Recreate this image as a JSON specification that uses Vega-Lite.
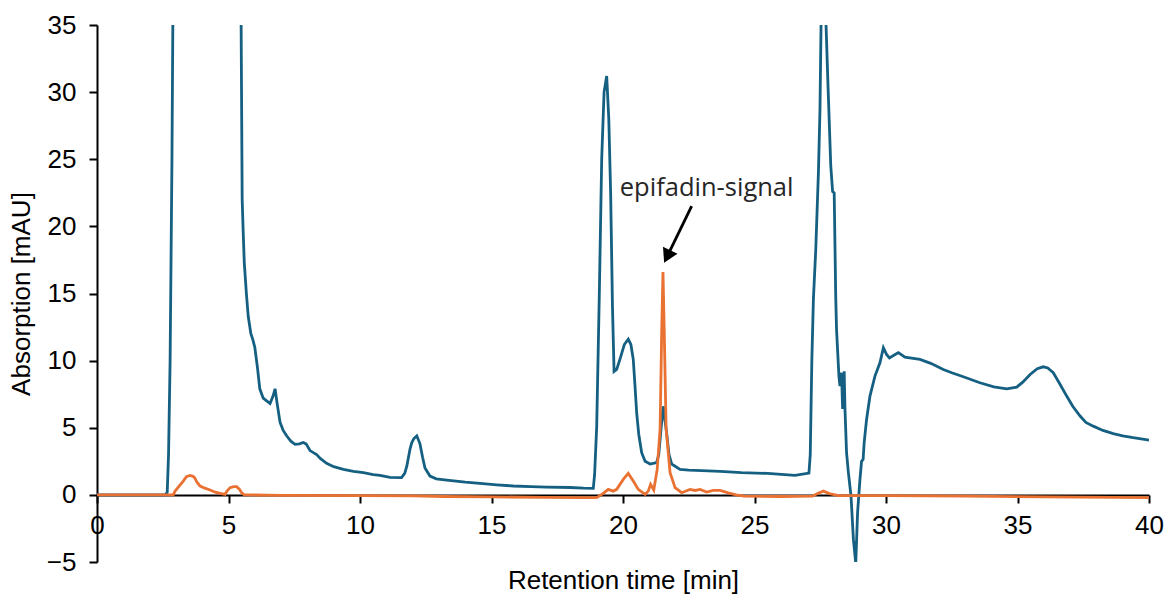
{
  "$schema": "https://vega.github.io/schema/vega-lite/v6.json",
  "width": 1052,
  "height": 537,
  "autosize": {"type": "none"},
  "padding": {"left": 97, "top": 25, "right": 18, "bottom": 33},
  "background": "white",
  "config": {"view": {"stroke": null}, "font": "Liberation Sans"},
  "datasets": {
    "blue": [
      {"x": 0, "y": 0}, {"x": 2.6, "y": 0}, {"x": 2.67, "y": 0.2}, {"x": 2.72, "y": 3}, {"x": 2.78, "y": 10},
      {"x": 2.85, "y": 25}, {"x": 2.9, "y": 40}, {"x": 3.0, "y": 60}, {"x": 4.0, "y": 90}, {"x": 5.0, "y": 70},
      {"x": 5.4, "y": 45}, {"x": 5.48, "y": 35}, {"x": 5.52, "y": 22}, {"x": 5.56, "y": 19.5}, {"x": 5.6, "y": 17.3},
      {"x": 5.68, "y": 15}, {"x": 5.75, "y": 13.3}, {"x": 5.85, "y": 12}, {"x": 5.92, "y": 11.6}, {"x": 6.0, "y": 11.0},
      {"x": 6.1, "y": 9.5}, {"x": 6.19, "y": 7.9}, {"x": 6.32, "y": 7.2}, {"x": 6.45, "y": 7.0}, {"x": 6.58, "y": 6.8},
      {"x": 6.7, "y": 7.4}, {"x": 6.77, "y": 7.9}, {"x": 6.85, "y": 6.8}, {"x": 6.96, "y": 5.4}, {"x": 7.08, "y": 4.8},
      {"x": 7.21, "y": 4.4}, {"x": 7.37, "y": 4.0}, {"x": 7.53, "y": 3.76}, {"x": 7.7, "y": 3.8}, {"x": 7.84, "y": 3.9},
      {"x": 7.95, "y": 3.8}, {"x": 8.1, "y": 3.3}, {"x": 8.35, "y": 3.0}, {"x": 8.5, "y": 2.7}, {"x": 8.73, "y": 2.35},
      {"x": 9.0, "y": 2.1}, {"x": 9.37, "y": 1.9}, {"x": 9.75, "y": 1.75}, {"x": 10.13, "y": 1.65}, {"x": 10.5, "y": 1.5},
      {"x": 10.76, "y": 1.45}, {"x": 11.14, "y": 1.3}, {"x": 11.58, "y": 1.28}, {"x": 11.7, "y": 1.6}, {"x": 11.78, "y": 2.14},
      {"x": 11.9, "y": 3.4}, {"x": 11.97, "y": 3.9}, {"x": 12.05, "y": 4.2}, {"x": 12.16, "y": 4.4}, {"x": 12.28, "y": 3.8},
      {"x": 12.38, "y": 2.8}, {"x": 12.47, "y": 2.0}, {"x": 12.66, "y": 1.4}, {"x": 12.9, "y": 1.2}, {"x": 13.3, "y": 1.1},
      {"x": 14.0, "y": 0.95}, {"x": 14.56, "y": 0.86}, {"x": 15.2, "y": 0.75}, {"x": 15.83, "y": 0.66}, {"x": 16.5, "y": 0.62},
      {"x": 17.1, "y": 0.58}, {"x": 18.0, "y": 0.55}, {"x": 18.5, "y": 0.5}, {"x": 18.87, "y": 0.48}, {"x": 18.92, "y": 1.5},
      {"x": 19.0, "y": 5.1}, {"x": 19.1, "y": 15}, {"x": 19.19, "y": 25}, {"x": 19.28, "y": 30}, {"x": 19.38, "y": 31.2},
      {"x": 19.46, "y": 28}, {"x": 19.53, "y": 22.5}, {"x": 19.6, "y": 14}, {"x": 19.66, "y": 9.2}, {"x": 19.76, "y": 9.35},
      {"x": 19.9, "y": 10.2}, {"x": 20.05, "y": 11.2}, {"x": 20.2, "y": 11.6}, {"x": 20.3, "y": 11.2}, {"x": 20.39, "y": 10.1},
      {"x": 20.46, "y": 8}, {"x": 20.52, "y": 6.1}, {"x": 20.6, "y": 4.5}, {"x": 20.71, "y": 3.14}, {"x": 20.84, "y": 2.5},
      {"x": 21.03, "y": 2.3}, {"x": 21.28, "y": 2.4}, {"x": 21.36, "y": 3.0}, {"x": 21.45, "y": 5.0}, {"x": 21.53, "y": 6.6},
      {"x": 21.6, "y": 5.5}, {"x": 21.66, "y": 4.6}, {"x": 21.75, "y": 3.0}, {"x": 21.85, "y": 2.3}, {"x": 22.17, "y": 1.9},
      {"x": 22.5, "y": 1.85}, {"x": 23.0, "y": 1.8}, {"x": 23.69, "y": 1.75}, {"x": 24.5, "y": 1.65}, {"x": 25.5, "y": 1.6},
      {"x": 26.54, "y": 1.45}, {"x": 27.07, "y": 1.62}, {"x": 27.12, "y": 3}, {"x": 27.18, "y": 10}, {"x": 27.24, "y": 14.6},
      {"x": 27.33, "y": 18.3}, {"x": 27.43, "y": 24}, {"x": 27.49, "y": 28.7}, {"x": 27.53, "y": 35}, {"x": 27.58, "y": 50},
      {"x": 27.68, "y": 50}, {"x": 27.72, "y": 35}, {"x": 27.8, "y": 30.2}, {"x": 27.9, "y": 24.5}, {"x": 27.97, "y": 22.6},
      {"x": 28.03, "y": 22.5}, {"x": 28.09, "y": 14.6}, {"x": 28.12, "y": 12.3}, {"x": 28.21, "y": 8.85}, {"x": 28.25, "y": 8.1},
      {"x": 28.31, "y": 9.1}, {"x": 28.35, "y": 6.4}, {"x": 28.41, "y": 9.2}, {"x": 28.44, "y": 6.4}, {"x": 28.5, "y": 3.14},
      {"x": 28.57, "y": 1.65}, {"x": 28.67, "y": -0.1}, {"x": 28.76, "y": -3.3}, {"x": 28.85, "y": -5.1}, {"x": 28.92, "y": -1.3},
      {"x": 29.01, "y": 1.15}, {"x": 29.07, "y": 2.5}, {"x": 29.13, "y": 2.64}, {"x": 29.17, "y": 3.9}, {"x": 29.26, "y": 5.6},
      {"x": 29.39, "y": 7.36}, {"x": 29.58, "y": 8.85}, {"x": 29.77, "y": 9.84}, {"x": 29.9, "y": 10.96}, {"x": 30.02, "y": 10.46},
      {"x": 30.13, "y": 10.2}, {"x": 30.3, "y": 10.4}, {"x": 30.47, "y": 10.6}, {"x": 30.72, "y": 10.26}, {"x": 31.29, "y": 10.09},
      {"x": 31.7, "y": 9.8}, {"x": 32.18, "y": 9.34}, {"x": 32.5, "y": 9.1}, {"x": 32.94, "y": 8.8}, {"x": 33.57, "y": 8.35},
      {"x": 34.1, "y": 8.05}, {"x": 34.59, "y": 7.9}, {"x": 34.97, "y": 8.03}, {"x": 35.2, "y": 8.4}, {"x": 35.48, "y": 8.97},
      {"x": 35.75, "y": 9.4}, {"x": 35.98, "y": 9.54}, {"x": 36.15, "y": 9.45}, {"x": 36.36, "y": 9.1}, {"x": 36.6, "y": 8.3},
      {"x": 36.87, "y": 7.36}, {"x": 37.1, "y": 6.6}, {"x": 37.38, "y": 5.87}, {"x": 37.6, "y": 5.4}, {"x": 37.88, "y": 5.12},
      {"x": 38.25, "y": 4.8}, {"x": 38.64, "y": 4.56}, {"x": 39.0, "y": 4.4}, {"x": 39.4, "y": 4.26}, {"x": 40.0, "y": 4.08}
    ],
    "orange": [
      {"x": 0, "y": 0}, {"x": 2.9, "y": 0}, {"x": 2.97, "y": 0.28}, {"x": 3.1, "y": 0.6}, {"x": 3.28, "y": 1.03},
      {"x": 3.4, "y": 1.35}, {"x": 3.54, "y": 1.45}, {"x": 3.65, "y": 1.38}, {"x": 3.71, "y": 1.28}, {"x": 3.8, "y": 0.95},
      {"x": 3.92, "y": 0.66}, {"x": 4.1, "y": 0.5}, {"x": 4.3, "y": 0.36}, {"x": 4.5, "y": 0.2}, {"x": 4.68, "y": 0.11},
      {"x": 4.87, "y": 0.04}, {"x": 4.95, "y": 0.3}, {"x": 5.06, "y": 0.54}, {"x": 5.2, "y": 0.62}, {"x": 5.31, "y": 0.61},
      {"x": 5.42, "y": 0.4}, {"x": 5.5, "y": 0.16}, {"x": 5.6, "y": 0.0}, {"x": 7, "y": -0.03}, {"x": 10, "y": -0.05},
      {"x": 12, "y": -0.08}, {"x": 13.2, "y": -0.12}, {"x": 15, "y": -0.15}, {"x": 17, "y": -0.18}, {"x": 18.37, "y": -0.2},
      {"x": 19.0, "y": -0.2}, {"x": 19.25, "y": 0.11}, {"x": 19.44, "y": 0.41}, {"x": 19.63, "y": 0.28}, {"x": 19.76, "y": 0.41},
      {"x": 20.01, "y": 1.15}, {"x": 20.2, "y": 1.6}, {"x": 20.39, "y": 1.03}, {"x": 20.58, "y": 0.41}, {"x": 20.84, "y": 0.04},
      {"x": 20.96, "y": 0.28}, {"x": 21.05, "y": 0.78}, {"x": 21.17, "y": 0.36}, {"x": 21.3, "y": 1.9}, {"x": 21.41, "y": 4.9},
      {"x": 21.47, "y": 12}, {"x": 21.52, "y": 16.6}, {"x": 21.57, "y": 12}, {"x": 21.64, "y": 4.9}, {"x": 21.79, "y": 1.65},
      {"x": 21.98, "y": 0.54}, {"x": 22.23, "y": 0.16}, {"x": 22.55, "y": 0.41}, {"x": 22.74, "y": 0.33}, {"x": 22.93, "y": 0.41},
      {"x": 23.18, "y": 0.21}, {"x": 23.43, "y": 0.33}, {"x": 23.69, "y": 0.33}, {"x": 24.0, "y": 0.15}, {"x": 24.3, "y": 0.0},
      {"x": 24.6, "y": -0.1}, {"x": 26.0, "y": -0.12}, {"x": 27.2, "y": -0.1}, {"x": 27.4, "y": 0.1}, {"x": 27.62, "y": 0.28},
      {"x": 27.85, "y": 0.1}, {"x": 28.2, "y": -0.05}, {"x": 30, "y": -0.05}, {"x": 33, "y": -0.1}, {"x": 36, "y": -0.15},
      {"x": 40, "y": -0.2}
    ],
    "arrow": [{"x": 22.61, "y": 21.5, "x2": 21.68, "y2": 17.76}],
    "head": [{"x": 21.68, "y": 17.76}],
    "label": [{"x": 23.18, "y": 22.87, "text": "epifadin-signal"}]
  },
  "layer": [
    {
      "data": {"name": "blue"},
      "mark": {"type": "line", "color": "#156082", "strokeWidth": 2.8, "clip": true},
      "encoding": {
        "x": {
          "field": "x", "type": "quantitative",
          "scale": {"domain": [0, 40], "nice": false, "zero": false},
          "axis": {
            "title": "Retention time [min]", "values": [0, 5, 10, 15, 20, 25, 30, 35, 40],
            "offset": -67, "tickSize": 8, "tickWidth": 2, "tickColor": "black",
            "domainColor": "black", "domainWidth": 2, "labelPadding": 9, "labelFlush": false,
            "labelOverlap": false, "labelFontSize": 26, "labelColor": "black", "labelFont": "Liberation Sans",
            "titleFontSize": 26, "titleFontWeight": "normal", "titleColor": "black", "titleFont": "Liberation Sans",
            "titlePadding": 29, "grid": false
          }
        },
        "y": {
          "field": "y", "type": "quantitative",
          "scale": {"domain": [-5, 35], "nice": false, "zero": false},
          "axis": {
            "title": "Absorption [mAU]", "values": [-5, 0, 5, 10, 15, 20, 25, 30, 35],
            "tickSize": 8, "tickWidth": 2, "tickColor": "black",
            "domainColor": "black", "domainWidth": 2, "labelPadding": 13, "labelFlush": false,
            "labelOverlap": false, "labelFontSize": 26, "labelColor": "black", "labelFont": "Liberation Sans",
            "titleFontSize": 26, "titleFontWeight": "normal", "titleColor": "black", "titleFont": "Liberation Sans",
            "titlePadding": 12, "grid": false
          }
        }
      }
    },
    {
      "data": {"name": "orange"},
      "mark": {"type": "line", "color": "#E97132", "strokeWidth": 2.8, "clip": true},
      "encoding": {
        "x": {"field": "x", "type": "quantitative"},
        "y": {"field": "y", "type": "quantitative"}
      }
    },
    {
      "data": {"name": "arrow"},
      "mark": {"type": "rule", "color": "black", "strokeWidth": 2.8},
      "encoding": {
        "x": {"field": "x", "type": "quantitative"},
        "y": {"field": "y", "type": "quantitative"},
        "x2": {"field": "x2"},
        "y2": {"field": "y2"}
      }
    },
    {
      "data": {"name": "head"},
      "mark": {"type": "point", "shape": "triangle-down", "filled": true, "size": 260, "angle": 26, "color": "black", "opacity": 1},
      "encoding": {
        "x": {"field": "x", "type": "quantitative"},
        "y": {"field": "y", "type": "quantitative"}
      }
    },
    {
      "data": {"name": "label"},
      "mark": {"type": "text", "font": "Open Sans", "fontSize": 25.5, "color": "#262626", "align": "center", "baseline": "middle"},
      "encoding": {
        "x": {"field": "x", "type": "quantitative"},
        "y": {"field": "y", "type": "quantitative"},
        "text": {"field": "text"}
      }
    }
  ]
}
